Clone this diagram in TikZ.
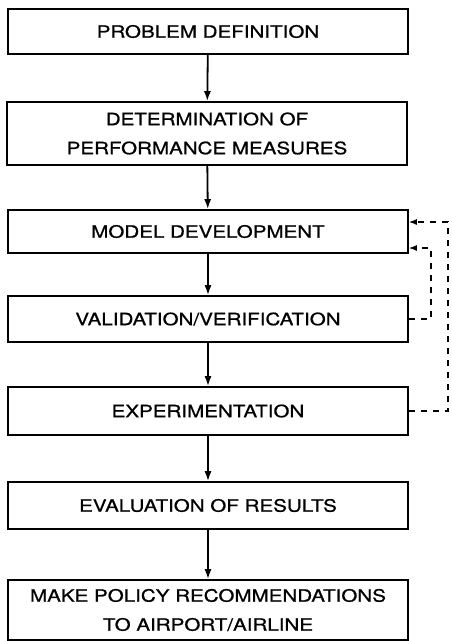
\documentclass[tikz,border=0pt]{standalone}
\usepackage{fontspec}
\setmainfont[FakeStretch=1.21,FakeBold=0.8]{TeX Gyre Heros}
\usetikzlibrary{arrows.meta,positioning,calc}

\begin{document}
\begin{tikzpicture}[x=1pt,y=-1pt,
stepbox/.style={draw=black, line width=1.6pt, minimum width=400pt, minimum height=45pt, align=center, inner sep=0pt, font=\fontsize{17}{29}\selectfont},
arr/.style={-{Latex[length=10pt,width=7pt]}, line width=1.8pt},
fb/.style={-{Latex[length=8pt,width=6pt]}, line width=1.4pt, dash pattern=on 6pt off 6pt}
]
\useasboundingbox (0,0) rectangle (451,641);
% The main steps
\node[stepbox] (prob) at (208,31.5) {PROBLEM DEFINITION};
\node[stepbox, minimum height=63pt] (perf) at (207,133.5) {DETERMINATION OF\\PERFORMANCE MEASURES};
\node[stepbox, minimum height=43pt] (model) at (208,231.5) {MODEL DEVELOPMENT};
\node[stepbox, minimum height=46pt] (valid) at (208,319) {VALIDATION/VERIFICATION};
\node[stepbox, minimum height=48pt] (exper) at (208,411) {EXPERIMENTATION};
\node[stepbox, minimum height=47pt] (eval) at (208,505.5) {EVALUATION OF RESULTS};
\node[stepbox, minimum height=60pt] (recom) at (208,610) {MAKE POLICY RECOMMENDATIONS\\TO AIRPORT/AIRLINE};
% Arrows between the steps
\draw[arr] (prob) -- (perf);
\draw[arr] (perf) -- (model);
\draw[arr] (model) -- (valid);
\draw[arr] (valid) -- (exper);
\draw[arr] (exper) -- (eval);
\draw[arr] (eval) -- (recom);
% Feedback loops
\draw[fb] (exper.east) -- ++(39,0) |- ([yshift=9.5pt]model.east);
\draw[fb] (valid.east) -- ++(22,0) |- ([yshift=-16.5pt]model.east);
\end{tikzpicture}
\end{document}
